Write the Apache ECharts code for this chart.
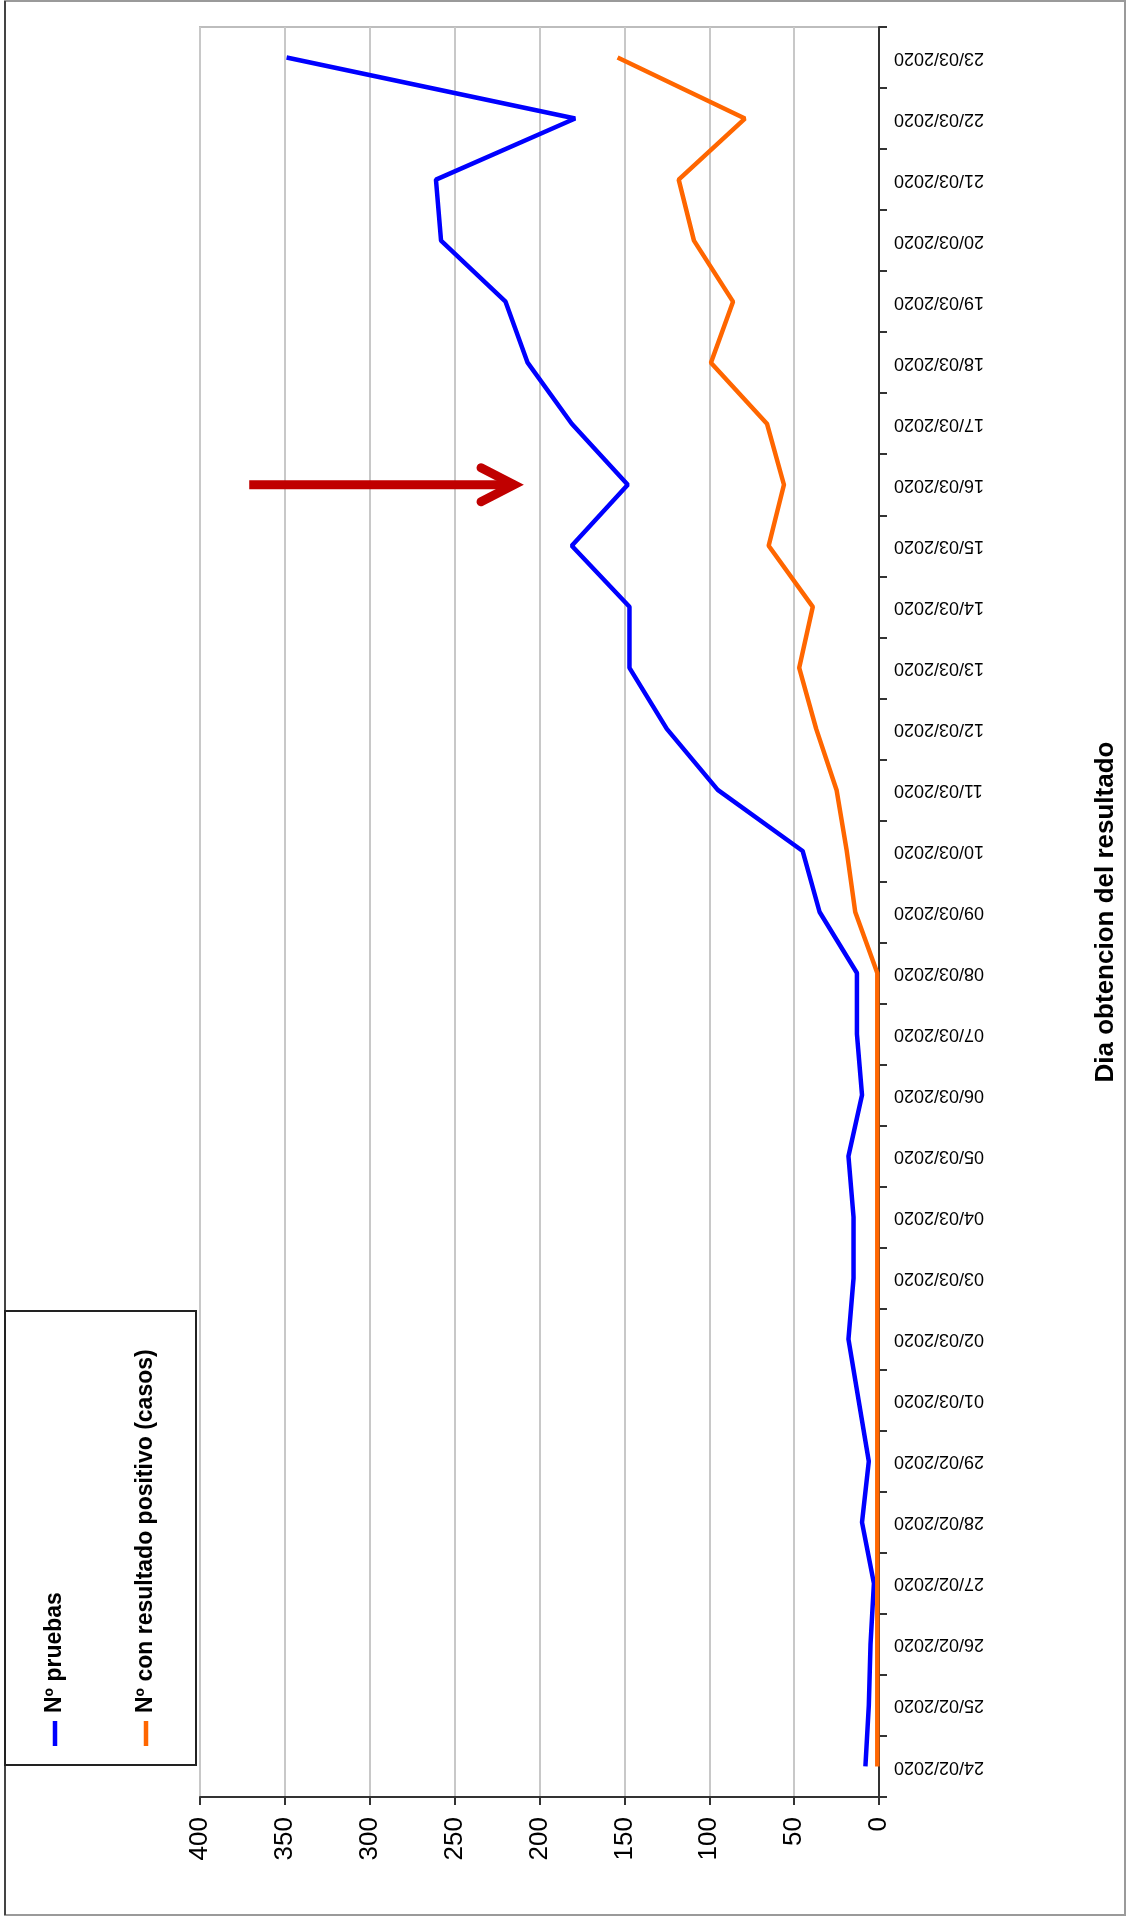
<!DOCTYPE html>
<html><head><meta charset="utf-8">
<script src="https://cdn.jsdelivr.net/npm/echarts@6/dist/echarts.min.js"></script>
<style>html,body{margin:0;padding:0;background:#fff}#c{width:1127px;height:1921px}</style>
</head><body><div id="c"></div>
<script>
const categories = ['24/02/2020','25/02/2020','26/02/2020','27/02/2020','28/02/2020','29/02/2020',
  '01/03/2020','02/03/2020','03/03/2020','04/03/2020','05/03/2020','06/03/2020','07/03/2020','08/03/2020',
  '09/03/2020','10/03/2020','11/03/2020','12/03/2020','13/03/2020','14/03/2020','15/03/2020','16/03/2020',
  '17/03/2020','18/03/2020','19/03/2020','20/03/2020','21/03/2020','22/03/2020','23/03/2020'];
const pruebas = [8,6,5,3,10,6,12,18,15,15,18,10,13,13,35,45,95,125,147,147,181,148,181,207,220,258,261,179,349];
const positivos = [1,1,1,1,1,1,1,1,1,1,1,1,1,1,14,19,25,37,47,39,65,56,66,99,86,109,118,79,154];
const seriesNames = ['Nº pruebas','Nº con resultado positivo (casos)'];
const seriesColors = ['#0000ff','#ff6600'];
const axisTitle = 'Dia obtencion del resultado';
const valueMin = 0, valueMax = 400, valueStep = 50;
const arrowCategory = '16/03/2020';
const arrowFromValue = 371, arrowToValue = 215;

const FONT = 'Liberation Sans, Arial, sans-serif';
const chart = echarts.init(document.getElementById('c'), null, {renderer:'canvas'});
chart.setOption({
  animation:false,
  backgroundColor:'#fff',
  grid:{left:200,right:241,top:27,bottom:124,show:true,borderColor:'#bdbdbd',borderWidth:2,containLabel:false},
  xAxis:{type:'value',inverse:true,min:valueMin,max:valueMax,interval:valueStep,position:'bottom',
    axisLine:{show:true,lineStyle:{color:'#333',width:2}},
    axisTick:{show:true,length:8,lineStyle:{color:'#333',width:2}},
    axisLabel:{rotate:90,fontSize:26,color:'#000',margin:20,fontFamily:FONT},
    splitLine:{show:true,lineStyle:{color:'#c8c8c8',width:2}}},
  yAxis:{type:'category',data:categories,position:'right',boundaryGap:true,
    axisLine:{show:true,lineStyle:{color:'#333',width:2}},
    axisTick:{show:true,length:8,lineStyle:{color:'#333',width:2}},
    axisLabel:{rotate:180,fontSize:18,color:'#000',margin:15,interval:0,fontFamily:FONT},
    splitLine:{show:false},
    name:axisTitle,nameLocation:'middle',nameRotate:90,nameGap:214,
    nameTextStyle:{fontSize:26,fontWeight:'bold',color:'#000',fontFamily:FONT}},
  series:[
    {name:seriesNames[0],type:'line',data:pruebas,symbol:'none',lineStyle:{color:seriesColors[0],width:4.5},itemStyle:{color:seriesColors[0]},z:3},
    {name:seriesNames[1],type:'line',data:positivos,symbol:'none',lineStyle:{color:seriesColors[1],width:4.5},itemStyle:{color:seriesColors[1]},z:3}
  ]
});

const tail = chart.convertToPixel({xAxisIndex:0,yAxisIndex:0},[arrowFromValue,arrowCategory]);
const tip = chart.convertToPixel({xAxisIndex:0,yAxisIndex:0},[arrowToValue,arrowCategory]);

const legendX = [55,146];
const graphics = [
  {type:'rect',shape:{x:5,y:1,width:1120,height:1914},style:{fill:null,stroke:'#9a9a9a',lineWidth:2},silent:true,z:0},
  {type:'line',shape:{x1:5,y1:1,x2:5,y2:1915},style:{stroke:'#444',lineWidth:2},silent:true},
  {type:'rect',shape:{x:5,y:1311,width:191,height:454},style:{fill:'#fff',stroke:'#222',lineWidth:2},silent:true,z:5},
  {type:'line',shape:{x1:tail[0],y1:tail[1],x2:tip[0]-4,y2:tip[1]},style:{stroke:'#c00000',lineWidth:9,lineCap:'butt'},z:10},
  {type:'polyline',shape:{points:[[tip[0]-33,tip[1]-17],[tip[0],tip[1]],[tip[0]-33,tip[1]+17]]},style:{stroke:'#c00000',lineWidth:9,lineCap:'round',lineJoin:'miter',fill:null},z:10}
];
seriesNames.forEach((n,i)=>{
  graphics.push({type:'line',shape:{x1:legendX[i],y1:1721,x2:legendX[i],y2:1746},style:{stroke:seriesColors[i],lineWidth:4.5},z:6});
  graphics.push({type:'text',x:legendX[i],y:1713,rotation:Math.PI/2,
    style:{text:n,font:'bold 23px '+FONT,fill:'#000',textAlign:'left',textVerticalAlign:'middle'},z:6});
});
chart.setOption({graphic:graphics});
</script></body></html>
